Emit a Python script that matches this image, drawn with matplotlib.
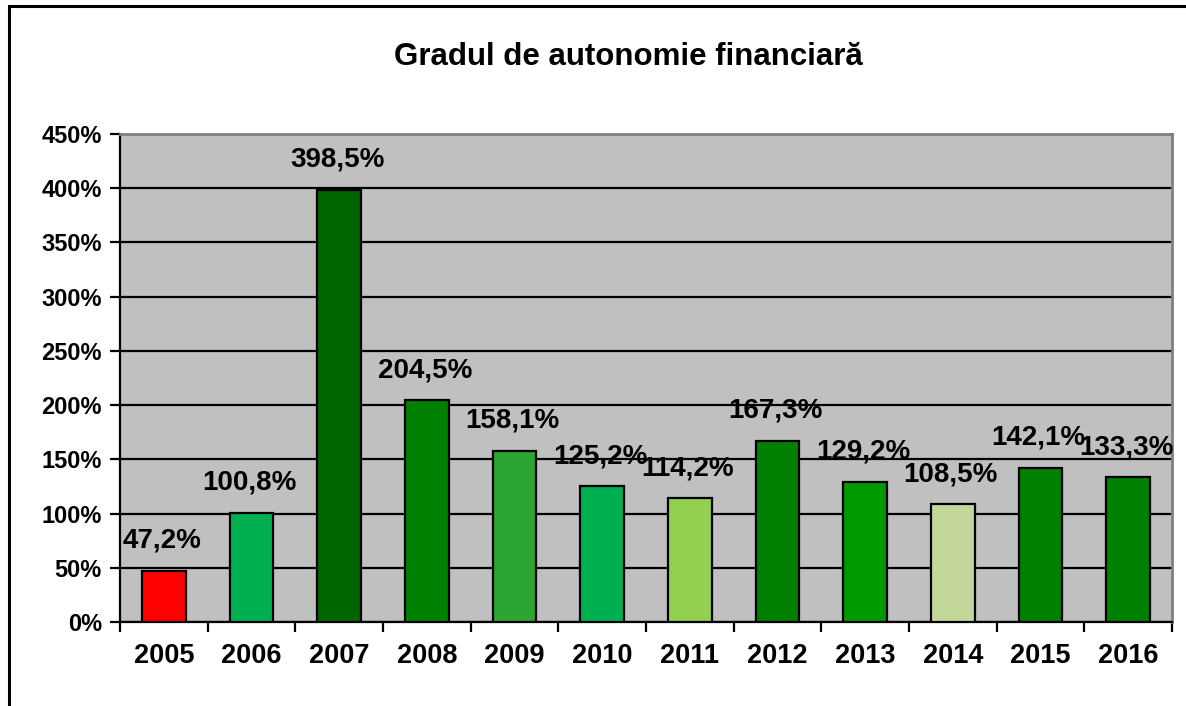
import numpy as np
import matplotlib
matplotlib.use("Agg")
import matplotlib.pyplot as plt
from matplotlib.patches import Rectangle

plt.rcParams['font.family'] = ['Liberation Sans', 'DejaVu Sans']
plt.rcParams['font.weight'] = 'bold'

ani = ['2005', '2006', '2007', '2008', '2009', '2010', '2011', '2012',
       '2013', '2014', '2015', '2016']
valori = [47.2, 100.8, 398.5, 204.5, 158.1, 125.2, 114.2, 167.3,
          129.2, 108.5, 142.1, 133.3]
culori = ['#FF0000', '#00B050', '#006400', '#008000', '#2CA532', '#00B050',
          '#92D050', '#008000', '#009A00', '#C4D79B', '#008000', '#008000']
etichete = ['47,2%', '100,8%', '398,5%', '204,5%', '158,1%', '125,2%',
            '114,2%', '167,3%', '129,2%', '108,5%', '142,1%', '133,3%']

W, H = 1186, 706
fig = plt.figure(figsize=(W / 100, H / 100), dpi=100)

# chenarul exterior (doar stanga si sus se vad)
fig.patches.append(Rectangle((9 / W, -0.1), 1.2, 1 - 6 / H + 0.1,
                             transform=fig.transFigure, fill=False,
                             edgecolor='black', linewidth=2.2))

ax = fig.add_axes([120 / W, 1 - 622 / H, (1172 - 120) / W, (622 - 134) / H])
ax.set_facecolor('#C0C0C0')

x = np.arange(len(ani))
ax.bar(x, valori, width=0.5, color=culori, edgecolor='black',
       linewidth=1.6, zorder=3)

for xi, v, t in zip(x, valori, etichete):
    ax.annotate(t, (xi, v), xytext=(-2, 30), textcoords='offset pixels',
                ha='center', va='center', fontsize=20, fontweight='bold',
                zorder=5)

ax.set_xlim(-0.5, len(ani) - 0.5)
ax.set_ylim(0, 450)
ax.set_yticks(np.arange(0, 451, 50))
ax.set_yticklabels([f'{v}%' for v in range(0, 451, 50)], fontsize=17,
                   fontweight='bold')
ax.set_xticks(x)
ax.set_xticklabels(ani, fontsize=19.5, fontweight='bold')
ax.set_xticks(np.arange(-0.5, len(ani), 1), minor=True)
ax.tick_params(axis='x', which='major', length=0, pad=15)
ax.tick_params(axis='x', which='minor', length=7, width=1.6, color='black')
ax.tick_params(axis='y', length=7, width=1.6, pad=6)

ax.yaxis.grid(True, color='black', linewidth=1.6, zorder=1)
ax.set_axisbelow(True)

for s in ['left', 'bottom']:
    ax.spines[s].set_color('black')
    ax.spines[s].set_linewidth(1.6)
for s in ['top', 'right']:
    ax.spines[s].set_color('#808080')
    ax.spines[s].set_linewidth(2)

fig.text(628 / W, 1 - 57 / H, 'Gradul de autonomie financiară',
         ha='center', va='center', fontsize=22.5, fontweight='bold')

fig.savefig('out.png', dpi=100)
